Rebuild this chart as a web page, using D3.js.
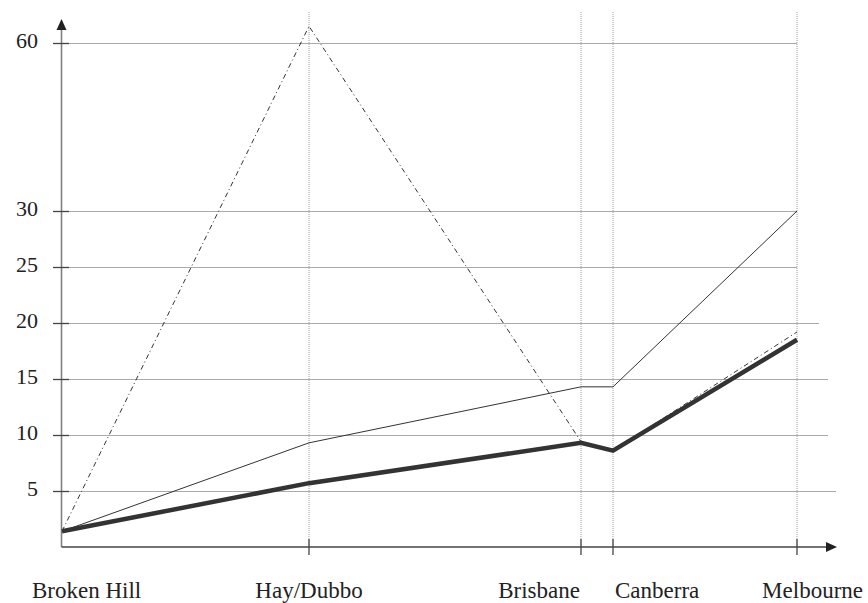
<!DOCTYPE html>
<html>
<head>
<meta charset="utf-8">
<script src="https://cdn.jsdelivr.net/npm/d3@7"></script>
<style>
  html, body { margin: 0; padding: 0; background: #fff; }
  svg { display: block; }
  text { font-family: "Liberation Serif", "DejaVu Serif", serif; fill: #222; }
</style>
</head>
<body>
<svg id="chart" width="868" height="603"></svg>
<script>
// ---- data ----
const categories = ["Broken Hill", "Hay/Dubbo", "Brisbane", "Canberra", "Melbourne"];
const categoryPositions = [0, 247, 519, 551, 735];   // relative distance along x
const yTicks = [5, 10, 15, 20, 25, 30, 60];
const seriesDashDot = [1.4, 63, 9.4, 8.6, 19.2];
const seriesThin = [1.4, 9.3, 14.3, 14.3, 30];
const seriesThick = [1.4, 5.7, 9.3, 8.6, 18.5];

// ---- styling / layout ----
const svg = d3.select("#chart");
const axisX = 61.5, axisY = 547;
const x = d3.scaleLinear().domain([0, 735]).range([62, 797]);
const y = d3.scaleLinear().domain([0, 30, 60]).range([axisY, 211, 43]);
const gridEnds = {5: 836, 10: 828, 15: 828, 20: 819, 25: 797, 30: 797, 60: 797};
const labelStyle = [
  {anchor: "start", dx: -30},
  {anchor: "middle", dx: 0},
  {anchor: "end", dx: -1},
  {anchor: "start", dx: 2},
  {anchor: "end", dx: 66}
];

// vertical gridlines
svg.append("g").selectAll("line").data(categoryPositions.slice(1)).join("line")
  .attr("x1", d => x(d)).attr("x2", d => x(d))
  .attr("y1", 12).attr("y2", axisY)
  .attr("stroke", "#b5b5b5").attr("stroke-width", 1.3).attr("stroke-dasharray", "1,1");

// horizontal gridlines
svg.append("g").selectAll("line").data(yTicks).join("line")
  .attr("x1", axisX).attr("x2", d => gridEnds[d])
  .attr("y1", d => Math.round(y(d)) + 0.5).attr("y2", d => Math.round(y(d)) + 0.5)
  .attr("stroke", "#555").attr("stroke-width", 1).attr("stroke-dasharray", "1,1");

// y axis
svg.append("line").attr("x1", axisX).attr("x2", axisX).attr("y1", axisY).attr("y2", 28)
  .attr("stroke", "#808080").attr("stroke-width", 1.6);
svg.append("path").attr("d", `M${axisX},19 L${axisX - 5},30 L${axisX + 5},30 Z`).attr("fill", "#222");
svg.append("g").selectAll("line").data(yTicks).join("line")
  .attr("x1", 53).attr("x2", 69)
  .attr("y1", d => Math.round(y(d)) + 0.5).attr("y2", d => Math.round(y(d)) + 0.5)
  .attr("stroke", "#444").attr("stroke-width", 1.3);
svg.append("g").selectAll("text").data(yTicks).join("text")
  .attr("x", 38).attr("y", d => y(d) + 5)
  .attr("text-anchor", "end").attr("font-size", 22)
  .text(d => d);

// x axis
svg.append("line").attr("x1", axisX).attr("x2", 828).attr("y1", axisY).attr("y2", axisY)
  .attr("stroke", "#444").attr("stroke-width", 1.6);
svg.append("path").attr("d", `M837,${axisY} L826,${axisY - 5} L826,${axisY + 5} Z`).attr("fill", "#222");
svg.append("g").selectAll("line").data(categoryPositions.slice(1)).join("line")
  .attr("x1", d => x(d)).attr("x2", d => x(d))
  .attr("y1", axisY - 8).attr("y2", axisY + 8)
  .attr("stroke", "#444").attr("stroke-width", 1.3);
svg.append("g").selectAll("text").data(categories).join("text")
  .attr("x", (d, i) => x(categoryPositions[i]) + labelStyle[i].dx)
  .attr("y", 598)
  .attr("text-anchor", (d, i) => labelStyle[i].anchor)
  .attr("font-size", 23)
  .text(d => d);

// lines
const line = d3.line().x((d, i) => x(categoryPositions[i])).y(d => y(d));
svg.append("path").datum(seriesDashDot).attr("d", line)
  .attr("fill", "none").attr("stroke", "#333").attr("stroke-width", 1)
  .attr("stroke-dasharray", "5,3,1,3");
svg.append("path").datum(seriesThin).attr("d", line)
  .attr("fill", "none").attr("stroke", "#333").attr("stroke-width", 1);
svg.append("path").datum(seriesThick).attr("d", line)
  .attr("fill", "none").attr("stroke", "#333").attr("stroke-width", 4.5)
  .attr("stroke-linejoin", "miter");
</script>
</body>
</html>
